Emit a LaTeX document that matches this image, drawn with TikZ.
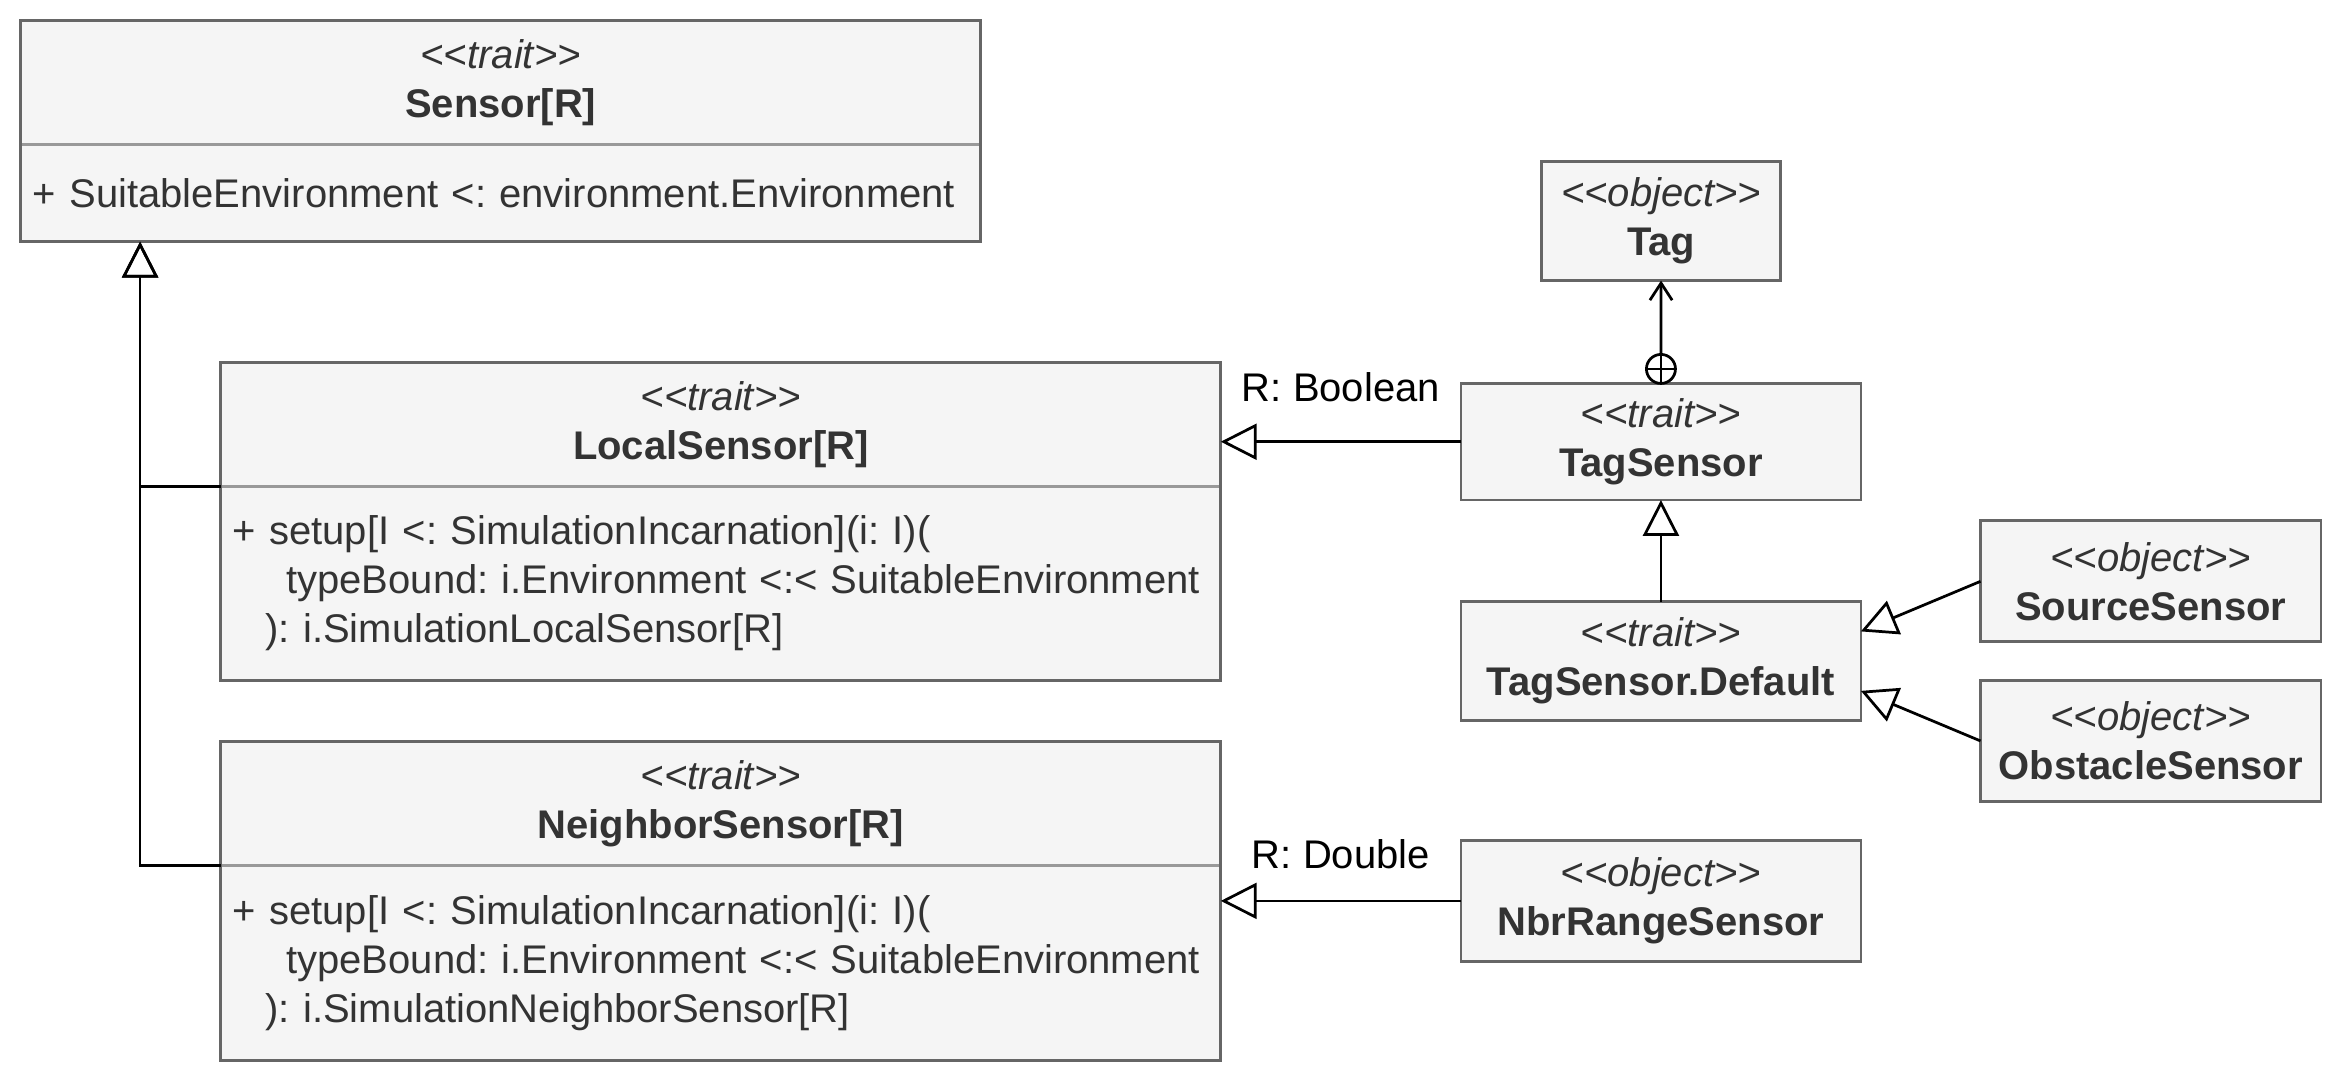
\documentclass[tikz,border=0pt]{standalone}
\usepackage{fontspec}
\setmainfont{Liberation Sans}[Ligatures=TeXOff]
\usetikzlibrary{positioning,arrows.meta}
\frenchspacing

\definecolor{boxfill}{HTML}{F5F5F5}
\definecolor{boxline}{HTML}{666666}
\definecolor{boxtext}{HTML}{333333}
\definecolor{divline}{HTML}{999999}

\newcommand{\stereo}[1]{\textit{<<#1>>}}
\newcommand{\classname}[2]{\stereo{#1}\\\textbf{#2}}

\tikzset{
  classhead/.style={draw=boxline, fill=boxfill, text=boxtext, anchor=north west,
    align=center, inner sep=0pt, outer sep=0pt, line width=0.8pt},
  classbody/.style={draw=boxline, fill=boxfill, text=boxtext, align=left,
    inner xsep=3.5pt, inner ysep=0pt, outer sep=0pt, line width=0.8pt},
  divider/.style={draw=divline, line width=0.8pt, shorten <=0.4pt, shorten >=0.4pt},
  extends/.style={draw, line width=0.8pt, -{Triangle[open,length=10.5pt,width=10.5pt]}},
  uses/.style={draw, line width=0.8pt, -{Straight Barb[length=5pt,width=6.5pt]}},
  nesting/.style={circle, draw, fill=white, inner sep=0pt, outer sep=0pt, minimum size=8.5pt, line width=0.8pt,
    path picture={\draw[line width=0.8pt] (path picture bounding box.north) -- (path picture bounding box.south)
      (path picture bounding box.west) -- (path picture bounding box.east);}},
  tlabel/.style={inner sep=0pt, text=black}
}

\begin{document}
\begin{tikzpicture}[x=1pt, y=-1pt, font=\fontsize{11.7}{14.4}\selectfont]
  \useasboundingbox (0,0) rectangle (684.7,316.0);

  % Sensor
  \node[classhead, minimum width=280.8pt, minimum height=36.2pt] (sensorhead) at (6.1,6.1)
    {\classname{trait}{Sensor[R]}};
  \node[classbody, below=0pt of sensorhead, text width=273.8pt, minimum height=28.4pt] (sensorbody)
    {+ SuitableEnvironment <: environment.Environment};

  % LocalSensor
  \node[classhead, minimum width=292.6pt, minimum height=36.2pt] (localhead) at (64.6,106.1)
    {\classname{trait}{LocalSensor[R]}};
  \node[classbody, below=0pt of localhead, text width=285.6pt, minimum height=56.8pt] (localbody)
    {+ setup[I <: SimulationIncarnation](i: I)(\\
     \hspace*{15.7pt}typeBound: i.Environment <:< SuitableEnvironment\\
     \hspace*{9.6pt}): i.SimulationLocalSensor[R]};

  % NeighborSensor
  \node[classhead, minimum width=292.6pt, minimum height=36.2pt] (neighborhead) at (64.6,217.0)
    {\classname{trait}{NeighborSensor[R]}};
  \node[classbody, below=0pt of neighborhead, text width=285.6pt, minimum height=57.2pt] (neighborbody)
    {+ setup[I <: SimulationIncarnation](i: I)(\\
     \hspace*{15.7pt}typeBound: i.Environment <:< SuitableEnvironment\\
     \hspace*{9.6pt}): i.SimulationNeighborSensor[R]};

  \foreach \c in {sensor,local,neighbor} {
    \draw[divider] (\c head.south west) -- (\c head.south east);
  }

  % Tag side
  \node[classhead, minimum width=69.9pt, minimum height=34.9pt] (tag) at (451.1,47.2)
    {\classname{object}{Tag}};
  \node[classhead, minimum width=117pt, minimum height=34.1pt] (tagsensor) at (427.5,112.2)
    {\classname{trait}{TagSensor}};
  \node[classhead, minimum width=117pt, minimum height=34.9pt] (tagdefault) at (427.5,176.0)
    {\classname{trait}{TagSensor.Default}};
  \node[classhead, minimum width=99.6pt, minimum height=35.4pt] (source) at (579.5,152.4)
    {\classname{object}{SourceSensor}};
  \node[classhead, minimum width=99.6pt, minimum height=35.4pt] (obstacle) at (579.5,199.1)
    {\classname{object}{ObstacleSensor}};
  \node[classhead, minimum width=117pt, minimum height=35.4pt] (nbrrange) at (427.5,245.9)
    {\classname{object}{NbrRangeSensor}};

  % Generalizations
  \draw[extends] (localhead.south west) -| ([xshift=34.9pt]sensorbody.south west);
  \draw[extends] (neighborhead.south west) -| ([xshift=34.9pt]sensorbody.south west);
  \draw[extends] (tagsensor.west) -- (tagsensor.west -| localhead.east)
    node[tlabel, midway, above=11.4pt] {R: Boolean};
  \draw[extends] (nbrrange.west) -- (nbrrange.west -| neighborbody.east)
    node[tlabel, midway, above=9pt] {R: Double};
  \draw[extends] (tagdefault) -- (tagsensor);
  \draw[extends] (source.west) -- ([yshift=8.7pt]tagdefault.east);
  \draw[extends] (obstacle.west) -- ([yshift=-8.7pt]tagdefault.east);

  % Nested Tag
  \node[nesting] (nest) at ([yshift=4.25pt]tagsensor.north) {};
  \draw[uses] (nest) -- (tag);
\end{tikzpicture}
\end{document}
